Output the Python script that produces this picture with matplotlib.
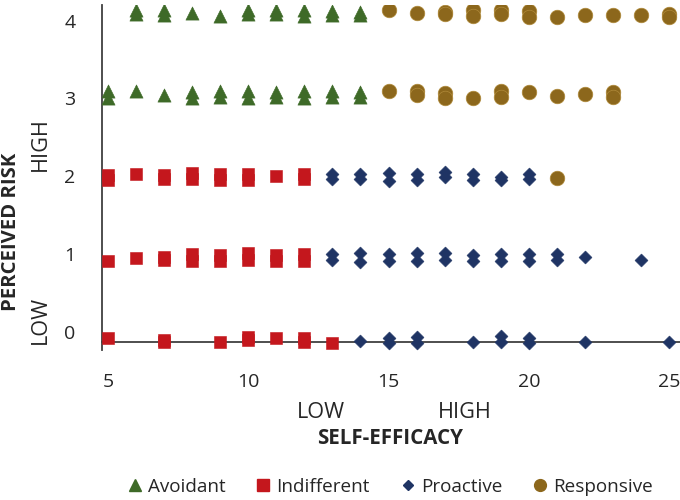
import matplotlib
matplotlib.use('Agg')
import matplotlib.pyplot as plt
from matplotlib.lines import Line2D

plt.rcParams['font.family'] = ['Open Sans', 'DejaVu Sans']

# ---- data (self-efficacy, perceived risk) ----
avoidant_x = [6, 6, 7, 7, 8, 9, 10, 10, 11, 11, 12, 12, 13, 13, 14, 14,
              5, 5, 6, 7, 8, 8, 9, 9, 10, 10, 11, 11, 12, 12, 13, 13, 14, 14]
avoidant_y = [4.14, 4.08, 4.14, 4.07, 4.10, 4.06, 4.14, 4.08, 4.14, 4.08, 4.13, 4.06, 4.12, 4.07, 4.11, 4.07,
              3.09, 3.01, 3.10, 3.05, 3.08, 3.01, 3.09, 3.02, 3.09, 3.01, 3.08, 3.02, 3.09, 3.01, 3.09, 3.02, 3.08, 3.02]

indifferent_x = [5, 5, 6, 7, 7, 8, 8, 9, 9, 10, 10, 11, 12, 12,
                 5, 6, 7, 7, 8, 8, 9, 9, 10, 10, 11, 11, 12, 12,
                 5, 7, 7, 9, 10, 10, 11, 12, 12, 13]
indifferent_y = [2.02, 1.95, 2.03, 2.02, 1.97, 2.04, 1.96, 2.03, 1.95, 2.03, 1.95, 2.01, 2.03, 1.96,
                 0.91, 0.95, 0.96, 0.92, 1.00, 0.91, 0.99, 0.91, 1.01, 0.93, 0.99, 0.91, 1.00, 0.91,
                 -0.08, -0.10, -0.13, -0.13, -0.06, -0.10, -0.08, -0.08, -0.13, -0.14]

proactive_x = [13, 13, 14, 14, 15, 15, 16, 16, 17, 17, 18, 18, 19, 19, 20, 20,
               13, 13, 14, 14, 15, 15, 16, 16, 17, 17, 18, 18, 19, 19, 20, 20, 21, 21, 22, 24,
               14, 15, 15, 16, 16, 18, 19, 19, 20, 20, 22, 25]
proactive_y = [2.03, 1.96, 2.03, 1.96, 2.04, 1.94, 2.03, 1.95, 2.06, 1.99, 2.03, 1.95, 1.99, 1.95, 2.03, 1.96,
               1.00, 0.93, 1.01, 0.90, 1.00, 0.91, 1.01, 0.91, 1.01, 0.92, 0.99, 0.91, 1.00, 0.91, 1.00, 0.91, 1.00, 0.92, 0.96, 0.93,
               -0.12, -0.07, -0.14, -0.06, -0.14, -0.13, -0.05, -0.13, -0.08, -0.14, -0.13, -0.13]

responsive_x = [15, 16, 17, 17, 18, 18, 19, 19, 20, 20, 21, 22, 23, 24, 25, 25,
                15, 16, 16, 17, 17, 18, 19, 19, 20, 21, 22, 23, 23,
                21]
responsive_y = [4.14, 4.10, 4.11, 4.08, 4.13, 4.06, 4.13, 4.08, 4.12, 4.05, 4.05, 4.07, 4.07, 4.07, 4.08, 4.05,
                3.10, 3.09, 3.04, 3.07, 3.00, 3.01, 3.09, 3.02, 3.08, 3.03, 3.06, 3.08, 3.02,
                1.98]

x_ticks = [5, 10, 15, 20, 25]
y_ticks = [0, 1, 2, 3, 4]
series_names = ['Avoidant', 'Indifferent', 'Proactive', 'Responsive']

GREEN = '#3e6a28'
RED = '#c4171d'
NAVY = '#1f3464'
GOLD = '#8c671c'
TXT = '#262626'

W, H = 680, 500
fig = plt.figure(figsize=(W / 100, H / 100), dpi=100)
ax = fig.add_axes([102 / W, 1 - 350 / H, 578 / W, 345 / H])
ax.set_xlim(4.786, 25.39)
ax.set_ylim(-0.23, 4.2)

ax.scatter(avoidant_x, avoidant_y, marker='^', s=9.5 ** 2, color=GREEN, edgecolors=GREEN, linewidths=0.4, zorder=3)
ax.scatter(indifferent_x, indifferent_y, marker='s', s=8.0 ** 2, color=RED, edgecolors=RED, linewidths=0.4, zorder=3)
ax.scatter(proactive_x, proactive_y, marker='D', s=6.6 ** 2, color=NAVY, edgecolors=NAVY, linewidths=0.4, zorder=3)
ax.scatter(responsive_x, responsive_y, marker='o', s=10.5 ** 2, color=GOLD, edgecolors='#b08a3a', linewidths=0.5, zorder=3)

for s in ['top', 'right']:
    ax.spines[s].set_visible(False)
ax.spines['left'].set_color('#404040')
ax.spines['bottom'].set_color('#404040')
ax.spines['left'].set_linewidth(1.3)
ax.spines['bottom'].set_linewidth(1.3)
ax.spines['bottom'].set_position(('data', -0.128))
ax.spines['left'].set_zorder(2)
ax.spines['bottom'].set_zorder(2)

ax.set_xticks(x_ticks)
ax.set_yticks(y_ticks)
ax.tick_params(axis='x', length=0, pad=22.5, labelsize=14, labelcolor=TXT)
ax.tick_params(axis='y', length=0, pad=19, labelsize=14, labelcolor=TXT)

def fx(px):
    return px / W

def fy(py):
    return 1 - py / H

fig.text(fx(11), fy(232), 'PERCEIVED RISK', rotation=90, ha='center', va='center',
         fontsize=14.6, fontweight='bold', color=TXT)
fig.text(fx(40), fy(144), 'HIGH', rotation=90, ha='center', va='center', fontsize=15.6, color=TXT)
fig.text(fx(40), fy(320), 'LOW', rotation=90, ha='center', va='center', fontsize=15.6, color=TXT)
fig.text(fx(321), fy(412), 'LOW', ha='center', va='center', fontsize=15.6, color=TXT)
fig.text(fx(465), fy(412), 'HIGH', ha='center', va='center', fontsize=15.6, color=TXT)
fig.text(fx(390), fy(439), 'SELF-EFFICACY', ha='center', va='center', fontsize=14.8,
         fontweight='bold', color=TXT)

handles = [
    Line2D([], [], ls='none', marker='^', ms=8, color=GREEN),
    Line2D([], [], ls='none', marker='s', ms=8, color=RED),
    Line2D([], [], ls='none', marker='D', ms=5.5, color=NAVY),
    Line2D([], [], ls='none', marker='o', ms=8.5, color=GOLD),
]
fig.legend(handles, series_names, loc='center', bbox_to_anchor=(fx(389), fy(487)), ncol=4,
           frameon=False, handletextpad=0.2, columnspacing=1.5, handlelength=1.0,
           prop={'size': 13.6}, labelcolor=TXT)

fig.savefig('out.png', dpi=100)
